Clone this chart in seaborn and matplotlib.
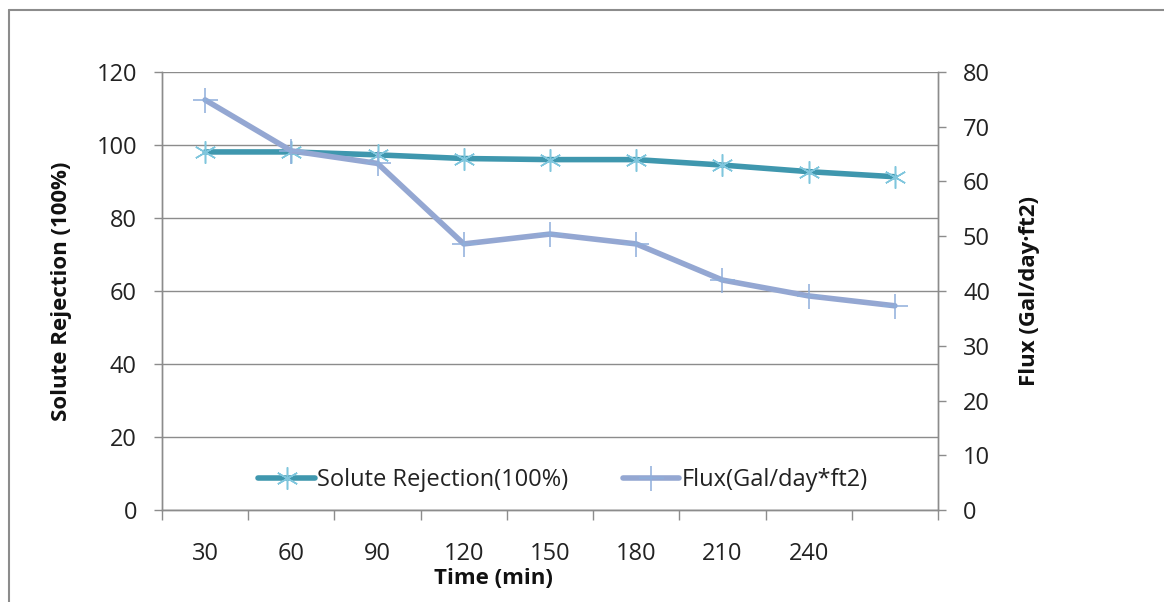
import matplotlib
matplotlib.use("Agg")
import matplotlib.pyplot as plt
import seaborn as sns
import pandas as pd
import numpy as np
from matplotlib.lines import Line2D
from matplotlib.ticker import FixedLocator, NullFormatter

sns.set_theme(style="white")
plt.rcParams['font.family'] = ['Open Sans', 'DejaVu Sans']

# ---- data ----
time_labels = ["30", "60", "90", "120", "150", "180", "210", "240", ""]
rejection = [98.1, 98.1, 97.3, 96.3, 96.0, 96.0, 94.5, 92.7, 91.3]
flux = [74.9, 65.6, 63.3, 48.6, 50.4, 48.6, 42.0, 39.1, 37.3]

df = pd.DataFrame({"idx": np.arange(len(time_labels)),
                   "rejection": rejection, "flux": flux})

W, H = 1164, 602
fig = plt.figure(figsize=(W / 100, H / 100), dpi=100)
ax = fig.add_axes([162 / W, 1 - 510 / H, 776 / W, 438 / H])
ax2 = ax.twinx()

gray = "#8c8c8c"
c_rej = "#3f97ae"
c_rej_m = "#7fc6dd"
c_flux = "#94a7d2"
c_flux_m = "#8eaedb"
txt = "#222222"

ast = (6, 2, 0)
sns.lineplot(data=df, x="idx", y="rejection", ax=ax, color=c_rej, lw=4,
             marker=ast, markersize=16, markeredgecolor=c_rej_m,
             markeredgewidth=1.1, zorder=3, legend=False)
sns.lineplot(data=df, x="idx", y="flux", ax=ax2, color=c_flux, lw=4,
             marker="+", markersize=18, markeredgecolor=c_flux_m,
             markeredgewidth=1.1, zorder=3, legend=False)

n = len(time_labels)
ax.set_xlim(-0.5, n - 0.5)
ax.set_ylim(0, 120)
ax2.set_ylim(0, 80)
ax.set_yticks(np.arange(0, 121, 20))
ax2.set_yticks(np.arange(0, 81, 10))

ax.xaxis.set_major_locator(FixedLocator(np.arange(-0.5, n, 1.0)))
ax.xaxis.set_major_formatter(NullFormatter())
ax.xaxis.set_minor_locator(FixedLocator(np.arange(n)))
ax.set_xticklabels(time_labels, minor=True)
ax.tick_params(axis="x", which="major", direction="out", length=7,
               width=1, color=gray, bottom=True)
ax.tick_params(axis="x", which="minor", length=0, pad=23, labelsize=17,
               labelcolor=txt)
ax.tick_params(axis="y", direction="out", length=6, width=1, color=gray,
               left=True, pad=12, labelsize=17, labelcolor=txt)
ax2.tick_params(axis="y", direction="out", length=6, width=1, color=gray,
                right=True, pad=12, labelsize=17, labelcolor=txt)

ax.grid(axis="y", color=gray, lw=1)
ax.grid(axis="x", visible=False)
ax2.grid(False)
for a in (ax, ax2):
    for s in a.spines.values():
        s.set_color(gray)
        s.set_linewidth(1)
    a.spines["top"].set_visible(False)

ax.set_xlabel("Time (min)", fontsize=16, fontweight="bold", color="#111111",
              va="center")
ax.xaxis.set_label_coords((493 - 162) / 776, (510 - 578) / 438)
ax.set_ylabel("Solute Rejection (100%)", fontsize=16, fontweight="bold",
              color="#111111", va="center")
ax.yaxis.set_label_coords((62 - 162) / 776, (510 - 291) / 438)
ax2.set_ylabel("Flux (Gal/day\u00b7ft2)", fontsize=16, fontweight="bold",
               color="#111111", rotation=90, va="center")
ax2.yaxis.set_label_coords((1030 - 162) / 776, (510 - 291) / 438)

handles = [
    Line2D([], [], color=c_rej, lw=4, marker=ast, markersize=16,
           markeredgecolor=c_rej_m, markeredgewidth=1.1),
    Line2D([], [], color=c_flux, lw=4, marker="+", markersize=18,
           markeredgecolor=c_flux_m, markeredgewidth=1.1),
]
ax2.legend(handles, ["Solute Rejection(100%)", "Flux(Gal/day*ft2)"],
           loc="center", bbox_to_anchor=((563 - 162) / 776, (510 - 480) / 438),
           ncol=2, frameon=False, fontsize=17, handlelength=2.4,
           handletextpad=0.1, columnspacing=2.3, labelcolor=txt)

# outer chart border (top and left visible)
fig.add_artist(Line2D([9 / W, 9 / W], [0, 1 - 10 / H], color=gray, lw=1.5,
                      transform=fig.transFigure))
fig.add_artist(Line2D([9 / W, 1], [1 - 10 / H, 1 - 10 / H], color=gray,
                      lw=1.5, transform=fig.transFigure))

fig.savefig("out.png", dpi=100)
